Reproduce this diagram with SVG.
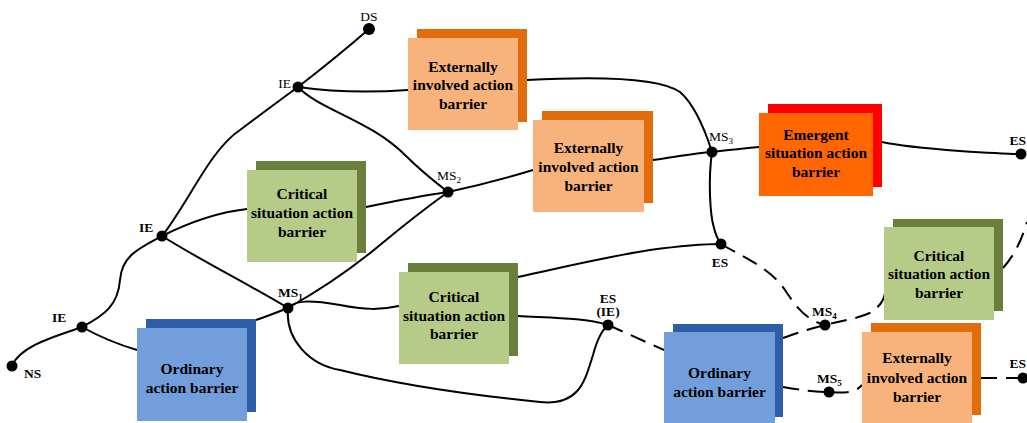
<svg xmlns="http://www.w3.org/2000/svg" width="1027" height="423" viewBox="0 0 1027 423">
<style>
.c{fill:none;stroke:#000;stroke-width:2}
.d{fill:none;stroke:#000;stroke-width:2;stroke-dasharray:16 9}
.bt{font-family:"Liberation Serif","Times New Roman",serif;font-weight:bold;font-size:15.5px;text-anchor:middle;fill:#000}
.nl{font-family:"Liberation Serif","Times New Roman",serif;font-size:13.5px;fill:#000}
.nb{font-family:"Liberation Serif","Times New Roman",serif;font-size:13.5px;font-weight:bold;fill:#000}
.dot{fill:#000}
.of{fill:#F7B37B}.ob{fill:#E26B0A}
.gf{fill:#B7CB88}.gb{fill:#6A803A}
.blf{fill:#729FDB}.blb{fill:#2E5EA8}
.ef{fill:#FF6600}.eb{fill:#FF0000}
</style>
<rect width="1027" height="423" fill="#fff"/>
<g id="connectors">
<path class="c" d="M12,366 C20,345 60,335 82,327"/>
<path class="c" d="M82,327 C100,337 120,345 137,350"/>
<path class="c" d="M82,327 C105,315 118,305 120,280 C122,255 140,248 162,236"/>
<path class="c" d="M162,236 C190,200 210,150 240,130 C260,115 280,100 298,87"/>
<path class="c" d="M298,87 C320,70 345,50 369,29"/>
<path class="c" d="M298,87 C340,93 380,92 408,90"/>
<path class="c" d="M298,87 C320,110 370,120 405,155 C420,170 435,182 448,192"/>
<path class="c" d="M162,236 C190,222 220,212 247,209"/>
<path class="c" d="M162,236 C200,260 250,285 288,308"/>
<path class="c" d="M366,207 C400,200 420,196 448,192"/>
<path class="c" d="M448,192 C480,185 510,177 533,170"/>
<path class="c" d="M288,308 C320,290 350,270 380,245 C410,220 430,205 448,192"/>
<path class="c" d="M256,320 C268,316 278,312 288,308"/>
<path class="c" d="M288,308 C295,300 310,300 340,305 C365,310 380,310 399,306"/>
<path class="c" d="M288,308 C285,340 310,365 340,370 C400,385 470,395 540,402 C580,406 585,380 593,355 C597,340 602,330 608,325"/>
<path class="c" d="M518,316 C555,318 585,318 608,325"/>
<path class="c" d="M518,277 C560,268 600,258 650,250 C680,246 700,244 721,244"/>
<path class="c" d="M712,152 C708,180 710,215 714,228 C716,236 718,240 721,244"/>
<path class="c" d="M527,80 C600,76 660,78 680,92 C695,105 705,130 712,152"/>
<path class="c" d="M653,160 C675,157 695,153 712,152"/>
<path class="c" d="M712,152 C730,150 745,148 759,147"/>
<path class="c" d="M882,142 C900,146 920,148 960,151 C990,153 1005,154 1021,154"/>
<path class="d" d="M721,244 C745,258 770,268 785,290 C795,305 805,320 825,325"/>
<path class="d" d="M783,338 C800,332 812,328 825,325 C845,320 860,318 872,312 C880,306 884,300 885,293"/>
<path class="d" d="M1003,268 C1012,258 1020,245 1027,222"/>
<path class="d" d="M608,325 L664,350"/>
<path class="d" d="M783,387 C800,390 815,392 829,392 C845,393 855,393 862,385"/>
<path class="d" d="M981,378 L1023,378"/>
</g>
<g id="b-ext1">
<rect class="ob" x="417" y="29" width="110" height="93"/>
<rect class="of" x="408" y="38" width="110" height="92"/>
<text class="bt" x="463" y="72">Externally</text>
<text class="bt" x="463" y="90">involved action</text>
<text class="bt" x="463" y="109">barrier</text>
</g>
<g id="b-ext2">
<rect class="ob" x="542" y="111" width="111" height="92"/>
<rect class="of" x="533" y="120" width="111" height="92"/>
<text class="bt" x="588.5" y="153">Externally</text>
<text class="bt" x="588.5" y="172">involved action</text>
<text class="bt" x="588.5" y="191">barrier</text>
</g>
<g id="b-emergent">
<rect class="eb" x="768" y="104" width="114" height="83"/>
<rect class="ef" x="759" y="113" width="114" height="83"/>
<text class="bt" x="816" y="140">Emergent</text>
<text class="bt" x="816" y="158">situation action</text>
<text class="bt" x="816" y="177">barrier</text>
</g>
<g id="b-crit1">
<rect class="gb" x="256" y="161" width="110" height="92"/>
<rect class="gf" x="247" y="170" width="110" height="92"/>
<text class="bt" x="302" y="199">Critical</text>
<text class="bt" x="302" y="218">situation action</text>
<text class="bt" x="302" y="237">barrier</text>
</g>
<g id="b-ord1">
<rect class="blb" x="146" y="319" width="110" height="93"/>
<rect class="blf" x="137" y="328" width="110" height="93"/>
<text class="bt" x="192" y="374">Ordinary</text>
<text class="bt" x="192" y="393">action barrier</text>
</g>
<g id="b-crit2">
<rect class="gb" x="408" y="263" width="110" height="93"/>
<rect class="gf" x="399" y="272" width="110" height="92"/>
<text class="bt" x="454" y="302">Critical</text>
<text class="bt" x="454" y="321">situation action</text>
<text class="bt" x="454" y="339">barrier</text>
</g>
<g id="b-ord2">
<rect class="blb" x="673" y="324" width="110" height="93"/>
<rect class="blf" x="664" y="332" width="111" height="93"/>
<text class="bt" x="719.5" y="378">Ordinary</text>
<text class="bt" x="719.5" y="397">action barrier</text>
</g>
<g id="b-crit3">
<rect class="gb" x="893" y="219" width="110" height="92"/>
<rect class="gf" x="884" y="227" width="110" height="93"/>
<text class="bt" x="939" y="261">Critical</text>
<text class="bt" x="939" y="279">situation action</text>
<text class="bt" x="939" y="298">barrier</text>
</g>
<g id="b-ext3">
<rect class="ob" x="871" y="323" width="110" height="92"/>
<rect class="of" x="862" y="332" width="110" height="93"/>
<text class="bt" x="917" y="363">Externally</text>
<text class="bt" x="917" y="383">involved action</text>
<text class="bt" x="917" y="402">barrier</text>
</g>
<g id="n-ds"><circle class="dot" cx="369" cy="29" r="6"/><text class="nl" x="369" y="21" text-anchor="middle">DS</text></g>
<g id="n-ie-top"><circle class="dot" cx="298" cy="87" r="5.5"/><text class="nl" x="291" y="88" text-anchor="end">IE</text></g>
<g id="n-ms2"><circle class="dot" cx="448" cy="192" r="5.5"/><text class="nl" x="437" y="180">MS<tspan font-size="9" dy="3">2</tspan></text></g>
<g id="n-ms3"><circle class="dot" cx="712" cy="152" r="5.5"/><text class="nl" x="709" y="141">MS<tspan font-size="9" dy="3">3</tspan></text></g>
<g id="n-es-r1"><circle class="dot" cx="1021" cy="154" r="5.5"/><text class="nb" x="1026" y="145" text-anchor="end">ES</text></g>
<g id="n-ie-mid"><circle class="dot" cx="162" cy="236" r="5.5"/><text class="nb" x="139" y="232">IE</text></g>
<g id="n-ie-low"><circle class="dot" cx="82" cy="327" r="5.5"/><text class="nb" x="52" y="322">IE</text></g>
<g id="n-ns"><circle class="dot" cx="12" cy="366" r="5.5"/><text class="nb" x="24" y="378">NS</text></g>
<g id="n-ms1"><circle class="dot" cx="288" cy="308" r="5.5"/><text class="nb" x="278" y="297">MS<tspan font-size="9" dy="3">1</tspan></text></g>
<g id="n-es-ie"><circle class="dot" cx="608" cy="325" r="5.5"/><text class="nb" x="608" y="303" text-anchor="middle">ES</text><text class="nb" x="608" y="316" text-anchor="middle">(IE)</text></g>
<g id="n-es-mid"><circle class="dot" cx="721" cy="244" r="5.5"/><text class="nb" x="720" y="267" text-anchor="middle">ES</text></g>
<g id="n-ms4"><circle class="dot" cx="825" cy="325" r="5.5"/><text class="nb" x="812" y="316">MS<tspan font-size="9" dy="3">4</tspan></text></g>
<g id="n-ms5"><circle class="dot" cx="829" cy="392" r="5.5"/><text class="nb" x="817" y="383">MS<tspan font-size="9" dy="3">5</tspan></text></g>
<g id="n-es-r2"><circle class="dot" cx="1023" cy="378" r="5.5"/><text class="nb" x="1026" y="368" text-anchor="end">ES</text></g>
</svg>
